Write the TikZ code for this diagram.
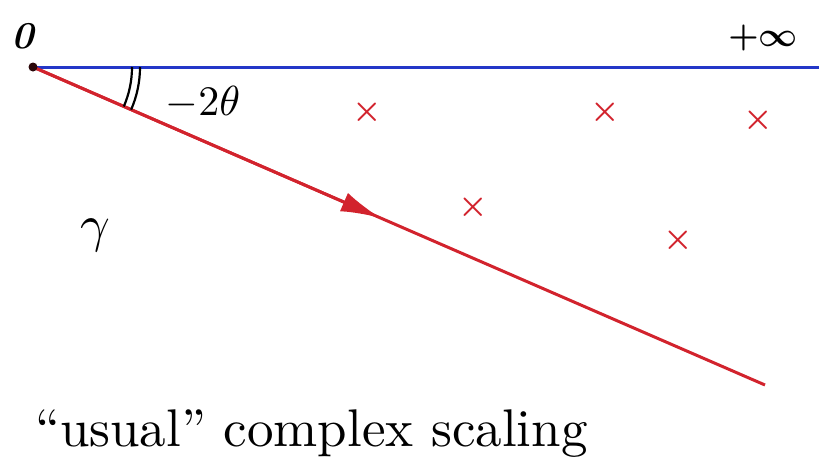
\documentclass[tikz,border=0pt]{standalone}
\usepackage{amsmath}
\usepackage{bm}
\usetikzlibrary{arrows.meta}
\definecolor{penblue}{RGB}{35,55,200}
\definecolor{penred}{RGB}{210,35,45}
\tikzset{
    pole/.style={penred},
    hand/.style={scale=#1/10},
}
\begin{document}
\begin{tikzpicture}[x=1pt, y=-1pt, >=Latex]
    \useasboundingbox (0,0) rectangle (819,458);

    \coordinate (O) at (33,67);
    \coordinate (Rinf) at (819,67);
    \coordinate (E) at (765,385);
    \path (O) -- (E) coordinate[pos=0.475] (M);

    \draw[penblue, line width=3pt] (O) -- (Rinf);
    \draw[penred, line width=3pt] (O) -- (E);
    \draw[penred, line width=3pt, -{Latex[length=40pt,width=20pt]}] (O) -- (M);
    \fill[black!80!penred] (O) circle (4.5pt);

    % angle between the two rays
    \draw[line width=2.2pt] ([shift={(0:99)}]O) arc[start angle=0, end angle=23.5, radius=99];
    \draw[line width=2.2pt] ([shift={(0:107)}]O) arc[start angle=0, end angle=23.5, radius=107];

    \node[hand=38] (zero) at (24,36) {\textbf{\textit{0}}};
    \node[hand=34] (inf) at (763,38) {$\bm{+\infty}$};
    \node[hand=42] (ang) at (203,103) {$-2\theta$};
    \node[hand=52] (gamma) at (95,235) {$\gamma$};

    \foreach \p/\q in {367/112, 605/112, 758/120, 473/207, 678/240}
        \node[pole, hand=33] at (\p,\q) {$\bm{\times}$};

    \node[hand=53, anchor=base west, inner sep=0pt] (caption) at (34,446) {``usual'' complex scaling};
\end{tikzpicture}
\end{document}
